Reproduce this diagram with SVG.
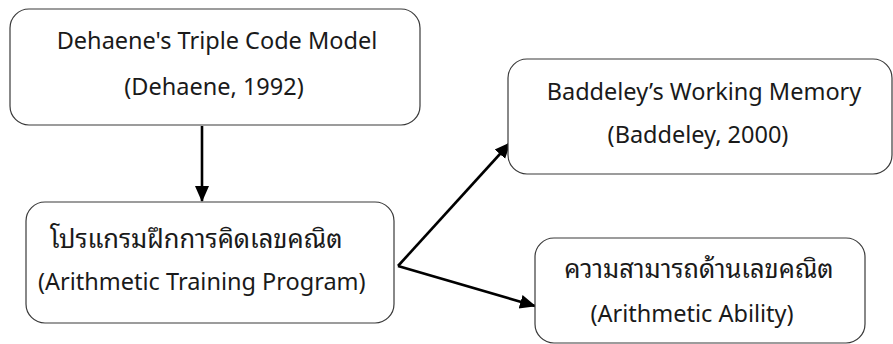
<svg xmlns="http://www.w3.org/2000/svg" width="893" height="344" viewBox="0 0 893 344">
  <style>
    .box { fill: #ffffff; stroke: #3a3a3a; stroke-width: 1.2; }
    .lbl { font-family: "Noto Sans", "Open Sans", "DejaVu Sans", sans-serif; font-size: 23.5px; fill: #1a1a1a; }
    .th { font-family: "Noto Sans Thai Looped", "Loma", "Garuda", "Noto Sans", "Noto Sans Thai", sans-serif; font-size: 25.5px; }
    .mid { text-anchor: middle; }
    .conn { stroke: #000000; stroke-width: 2.6; fill: none; }
  </style>
  <defs>
    <marker id="arrow" markerUnits="userSpaceOnUse" markerWidth="16" markerHeight="16" viewBox="0 0 16 16" refX="15" refY="8" orient="auto">
      <path d="M0,1 L16,8 L0,15 Z" fill="#000000"/>
    </marker>
  </defs>
  <rect width="893" height="344" fill="#ffffff"/>

  <!-- connectors -->
  <g id="connectors">
    <line class="conn" x1="202" y1="126" x2="202" y2="201" marker-end="url(#arrow)"/>
    <line class="conn" x1="398" y1="266" x2="510" y2="143" marker-end="url(#arrow)"/>
    <line class="conn" x1="398" y1="266" x2="535" y2="306" marker-end="url(#arrow)"/>
  </g>

  <!-- Dehaene's Triple Code Model -->
  <g id="node-dehaene">
    <rect class="box" x="10" y="9" width="410" height="116" rx="19"/>
    <text class="lbl mid" x="217" y="49">Dehaene's Triple Code Model</text>
    <text class="lbl mid" x="214" y="95">(Dehaene, 1992)</text>
  </g>

  <!-- Arithmetic training program -->
  <g id="node-training">
    <rect class="box" x="26" y="202" width="368" height="121" rx="19"/>
    <text class="lbl th" x="50" y="248">โปรแกรมฝึกการคิดเลขคณิต</text>
    <text class="lbl" x="38" y="290">(Arithmetic Training Program)</text>
  </g>

  <!-- Baddeley's Working Memory -->
  <g id="node-baddeley">
    <rect class="box" x="508" y="59" width="384" height="115" rx="19"/>
    <text class="lbl mid" x="704" y="100">Baddeley’s Working Memory</text>
    <text class="lbl mid" x="698" y="143">(Baddeley, 2000)</text>
  </g>

  <!-- Arithmetic ability -->
  <g id="node-ability">
    <rect class="box" x="535" y="238" width="330" height="105" rx="19"/>
    <text class="lbl th mid" x="699" y="278">ความสามารถด้านเลขคณิต</text>
    <text class="lbl mid" x="692" y="322">(Arithmetic Ability)</text>
  </g>
</svg>
